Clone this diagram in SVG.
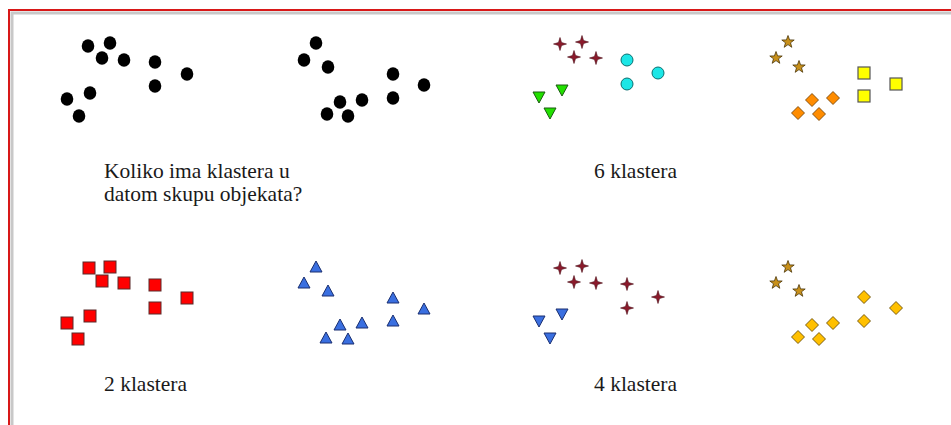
<svg xmlns="http://www.w3.org/2000/svg" xmlns:xlink="http://www.w3.org/1999/xlink" width="951" height="425" viewBox="0 0 951 425">
<style>
.t{font-family:"Liberation Serif","Times New Roman",serif;font-size:21.5px;fill:#1a1a1a}
.dot{fill:#000}
.rsq{fill:#ff0000;stroke:#5a2a2a;stroke-width:1}
.btri{fill:#3a6fe0;stroke:#1a2f70;stroke-width:1}
.cross{fill:#8b1a2b;stroke:#4a0a14;stroke-width:0.6}
.cyan{fill:#1ce6e6;stroke:#0a6f70;stroke-width:1}
.gtri{fill:#22e000;stroke:#1a5a10;stroke-width:1}
.star{fill:#c8901a;stroke:#4a3508;stroke-width:0.8}
.ysq{fill:#ffff00;stroke:#555;stroke-width:1.2}
.odia{fill:#ff8c00;stroke:#6a3a00;stroke-width:0.8}
.gdia{fill:#ffc000;stroke:#5a4000;stroke-width:0.8}
.bdtri{fill:#3a6fe0;stroke:#1a2f70;stroke-width:1}
</style>
<defs>
<ellipse id="d" cx="0" cy="0" rx="6.3" ry="6.7"/>
<rect id="sq" x="-6" y="-6" width="12" height="12"/>
<path id="tu" d="M0,-6 L6,5 L-6,5 Z"/>
<path id="td" d="M-6,-5 L6,-5 L0,6 Z"/>
<path id="cr" d="M0,-6.5 L1.5,-1.5 L6.5,0 L1.5,1.5 L0,6.5 L-1.5,1.5 L-6.5,0 L-1.5,-1.5 Z"/>
<circle id="ci" cx="0" cy="0" r="6"/>
<path id="st" d="M0,-6.5 L1.6,-2.1 L6.2,-2 L2.5,0.8 L3.8,5.3 L0,2.6 L-3.8,5.3 L-2.5,0.8 L-6.2,-2 L-1.6,-2.1 Z"/>
<path id="di" d="M0,-6.5 L6.5,0 L0,6.5 L-6.5,0 Z"/>
</defs>
<rect x="0" y="0" width="951" height="425" fill="#fff"/>
<g id="frame">
<rect x="12" y="13" width="950" height="420" fill="none" stroke="#c8c8c8" stroke-width="3"/>
<rect x="9" y="10" width="950" height="420" fill="none" stroke="#d81818" stroke-width="2"/>
</g>
<g id="panel1" class="dot">
<use href="#d" x="88" y="46"/><use href="#d" x="110" y="43"/><use href="#d" x="102" y="58"/><use href="#d" x="124" y="60"/><use href="#d" x="155" y="62"/><use href="#d" x="187" y="74"/><use href="#d" x="155" y="86"/><use href="#d" x="90" y="93"/><use href="#d" x="67" y="99"/><use href="#d" x="79" y="116"/>
</g>
<g id="panel2" class="dot">
<use href="#d" x="316" y="43"/><use href="#d" x="304" y="60"/><use href="#d" x="328" y="67"/><use href="#d" x="393" y="74"/><use href="#d" x="424" y="85"/><use href="#d" x="393" y="98"/><use href="#d" x="362" y="100"/><use href="#d" x="340" y="102"/><use href="#d" x="327" y="114"/><use href="#d" x="348" y="116"/>
</g>
<g id="panel3">
<g class="cross"><use href="#cr" x="560" y="44"/><use href="#cr" x="582" y="42"/><use href="#cr" x="574" y="57"/><use href="#cr" x="596" y="58"/></g>
<g class="cyan"><use href="#ci" x="627" y="60"/><use href="#ci" x="658" y="73"/><use href="#ci" x="627" y="84"/></g>
<g class="gtri"><use href="#td" x="539" y="97"/><use href="#td" x="562" y="90"/><use href="#td" x="550" y="113"/></g>
</g>
<g id="panel4">
<g class="star"><use href="#st" x="788" y="42"/><use href="#st" x="776" y="58"/><use href="#st" x="799" y="67"/></g>
<g class="ysq"><use href="#sq" x="864" y="73"/><use href="#sq" x="896" y="84"/><use href="#sq" x="864" y="96"/></g>
<g class="odia"><use href="#di" x="812" y="100"/><use href="#di" x="833" y="98"/><use href="#di" x="798" y="113"/><use href="#di" x="819" y="114"/></g>
</g>
<g id="panel5" class="rsq">
<use href="#sq" x="89" y="268"/><use href="#sq" x="110" y="267"/><use href="#sq" x="102" y="281"/><use href="#sq" x="124" y="283"/><use href="#sq" x="155" y="285"/><use href="#sq" x="187" y="298"/><use href="#sq" x="155" y="308"/><use href="#sq" x="90" y="316"/><use href="#sq" x="67" y="323"/><use href="#sq" x="78" y="339"/>
</g>
<g id="panel6" class="btri">
<use href="#tu" x="316" y="267"/><use href="#tu" x="304" y="283"/><use href="#tu" x="328" y="291"/><use href="#tu" x="393" y="298"/><use href="#tu" x="424" y="309"/><use href="#tu" x="393" y="321"/><use href="#tu" x="362" y="323"/><use href="#tu" x="340" y="325"/><use href="#tu" x="326" y="338"/><use href="#tu" x="348" y="339"/>
</g>
<g id="panel7">
<g class="cross"><use href="#cr" x="560" y="268"/><use href="#cr" x="582" y="266"/><use href="#cr" x="574" y="282"/><use href="#cr" x="596" y="283"/><use href="#cr" x="627" y="284"/><use href="#cr" x="658" y="297"/><use href="#cr" x="627" y="308"/></g>
<g class="bdtri"><use href="#td" x="539" y="321"/><use href="#td" x="562" y="314"/><use href="#td" x="550" y="338"/></g>
</g>
<g id="panel8">
<g class="star"><use href="#st" x="788" y="267"/><use href="#st" x="776" y="283"/><use href="#st" x="799" y="291"/></g>
<g class="gdia"><use href="#di" x="864" y="297"/><use href="#di" x="896" y="308"/><use href="#di" x="864" y="321"/><use href="#di" x="812" y="325"/><use href="#di" x="833" y="323"/><use href="#di" x="798" y="337"/><use href="#di" x="819" y="339"/></g>
</g>
<g id="labels">
<text class="t" x="104" y="178">Koliko ima klastera u</text>
<text class="t" x="104" y="201">datom skupu objekata?</text>
<text class="t" x="594" y="178">6 klastera</text>
<text class="t" x="104" y="391">2 klastera</text>
<text class="t" x="594" y="391">4 klastera</text>
</g>
</svg>
